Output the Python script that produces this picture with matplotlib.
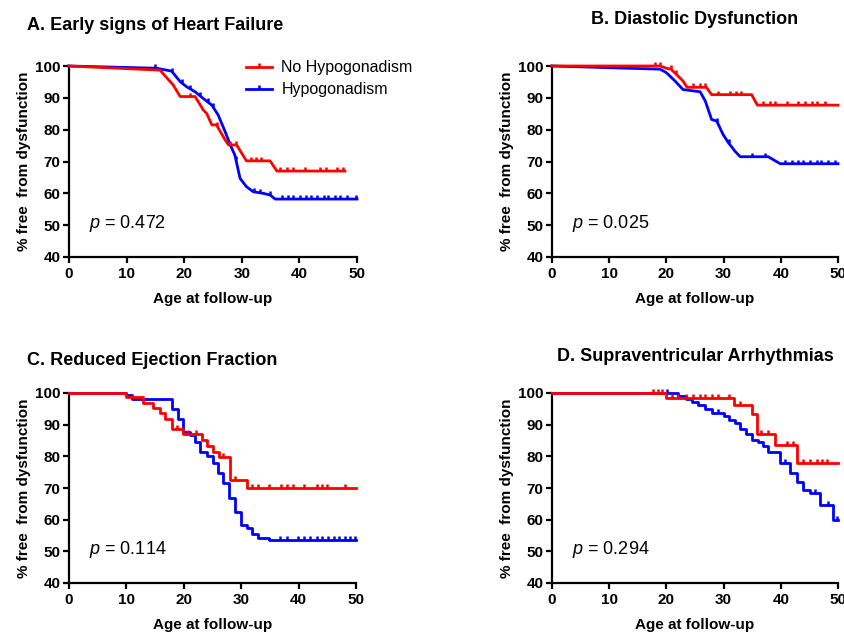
import numpy as np
import matplotlib
matplotlib.use("Agg")
import matplotlib.pyplot as plt
from matplotlib.lines import Line2D

plt.rcParams['font.family'] = ['Liberation Sans', 'DejaVu Sans']
plt.rcParams['mathtext.fontset'] = 'custom'
plt.rcParams['mathtext.rm'] = 'Liberation Sans'
plt.rcParams['mathtext.it'] = 'Liberation Sans:italic'

RED = '#ff0000'
BLUE = '#0000ff'
labels = ['No Hypogonadism', 'Hypogonadism']

# A. Early signs of Heart Failure (drawn as joined lines)
a_age_no = [0, 15.8, 18.1, 19.3, 21.9, 23.3, 23.9, 24.8, 25.6, 27.1, 27.7, 29.1, 30.8, 34.9, 36.1, 47.9]
a_pct_no = [100, 98.7, 94.0, 90.4, 90.4, 86.2, 85.1, 81.5, 81.5, 76.8, 75.2, 75.2, 70.2, 70.2, 67.0, 67.0]
a_cens_no = [21.0, 25.7, 28.0, 29.0, 31.6, 32.5, 33.4, 36.6, 37.8, 38.9, 41.0, 43.6, 44.7, 46.5, 47.6]
a_age_hy = [0, 15.2, 17.8, 19.3, 20.4, 21.9, 23.3, 24.8, 25.9, 27.1, 28.0, 28.8, 29.7, 30.8, 32.0, 33.7, 34.9, 35.8, 50]
a_pct_hy = [100, 99.3, 98.4, 95.1, 93.5, 91.9, 89.8, 87.7, 84.6, 79.4, 75.2, 72.0, 64.7, 62.1, 60.5, 60.0, 59.5, 58.2, 58.2]
a_cens_hy = [15.0, 17.9, 19.6, 21.0, 22.7, 24.2, 25.0, 29.0, 32.2, 33.2, 34.9, 36.9, 38.1, 38.9,
             40.1, 41.1, 42.1, 43.1, 44.2, 45.0, 46.2, 47.0, 48.2, 49.8]

# B. Diastolic Dysfunction (joined lines)
b_age_no = [0, 18.9, 20.0, 20.8, 22.0, 22.9, 23.6, 27.0, 27.9, 34.9, 35.9, 50]
b_pct_no = [100, 100, 99.3, 99.0, 96.9, 95.3, 93.3, 93.3, 91.0, 91.0, 87.7, 87.7]
b_cens_no = [18.0, 18.9, 20.8, 21.6, 24.7, 25.9, 26.8, 29.0, 31.1, 32.2, 33.1, 36.9, 38.1, 39.0,
             41.0, 43.0, 44.2, 45.4, 46.4, 47.7]
b_age_hy = [0, 18.9, 20.0, 21.5, 22.9, 25.9, 26.8, 27.9, 28.8, 29.9, 30.8, 32.0, 32.9, 37.8, 39.9, 50]
b_pct_hy = [100, 99.0, 97.9, 95.3, 92.6, 91.9, 89.0, 83.2, 82.7, 78.5, 76.0, 73.2, 71.5, 71.5, 69.3, 69.3]
b_cens_hy = [28.9, 30.9, 34.9, 37.2, 40.7, 41.9, 43.0, 43.9, 45.1, 46.3, 47.1, 48.3, 49.5]

# C. Reduced Ejection Fraction (steps)
c_age_no = [0, 10.0, 12.9, 14.7, 15.9, 16.8, 17.9, 19.9, 23.1, 24.1, 25.1, 26.1, 28.0, 31.0, 50]
c_pct_no = [100, 98.7, 97.0, 95.4, 93.7, 91.9, 88.5, 87.0, 85.1, 83.2, 81.5, 79.7, 72.5, 70.1, 70.1]
c_cens_no = [18.9, 20.8, 22.1, 26.9, 28.9, 31.8, 32.9, 34.9, 36.9, 37.9, 39.0, 41.0, 43.2, 44.0, 44.9, 48.0]
c_age_hy = [0, 10.0, 10.9, 18.0, 19.0, 19.9, 21.1, 22.0, 22.8, 24.0, 25.0, 26.0, 26.9, 27.9, 28.9,
            29.9, 31.0, 31.9, 32.9, 34.9, 50]
c_pct_hy = [100, 99.3, 98.0, 95.1, 91.9, 87.7, 86.7, 84.6, 81.5, 80.1, 78.0, 74.8, 71.7, 66.8, 62.3,
            58.4, 57.4, 55.5, 54.2, 53.5, 53.5]
c_cens_hy = [36.8, 37.9, 39.9, 41.0, 42.0, 43.2, 44.1, 45.2, 46.1, 47.1, 48.1, 49.0, 49.8]

# D. Supraventricular Arrhythmias (steps)
d_age_no = [0, 19.9, 31.9, 34.9, 35.9, 39.0, 42.9, 50]
d_pct_no = [100, 98.4, 96.1, 93.5, 87.2, 83.6, 78.0, 78.0]
d_cens_no = [17.7, 18.6, 19.2, 20.9, 22.1, 23.5, 24.7, 25.9, 26.8, 27.9, 29.1, 31.0, 32.9,
             36.6, 37.8, 41.0, 42.1, 43.9, 45.1, 46.3, 47.2, 48.0]
d_age_hy = [0, 22.1, 23.4, 24.4, 25.6, 26.8, 27.9, 30.0, 31.0, 32.0, 32.9, 33.9, 34.9, 36.1, 36.9,
            37.8, 39.8, 41.6, 42.8, 43.9, 45.1, 46.9, 49.2, 50]
d_pct_hy = [100, 99.1, 98.2, 97.2, 96.1, 95.1, 93.7, 92.7, 91.6, 90.4, 88.5, 87.2, 85.3, 84.6, 83.2,
            81.4, 77.8, 74.6, 72.0, 69.4, 68.4, 64.7, 60.0, 60.0]
d_cens_hy = [20.1, 29.1, 40.7, 45.9, 48.2, 49.9]

p_values = ['0.472', '0.025', '0.114', '0.294']
titles = ['A. Early signs of Heart Failure', 'B. Diastolic Dysfunction',
          'C. Reduced Ejection Fraction', 'D. Supraventricular Arrhythmias']


def step_value(x, y, cx):
    idx = np.searchsorted(np.asarray(x), np.asarray(cx), side='right') - 1
    return np.asarray(y)[idx]


def draw_curve(ax, x, y, cens, color, steps, z):
    if steps:
        ax.step(x, y, where='post', color=color, lw=2.0, zorder=z, clip_on=False)
        cy = step_value(x, y, cens)
    else:
        ax.plot(x, y, color=color, lw=2.0, zorder=z, clip_on=False)
        cy = np.interp(cens, x, y)
    ax.plot(cens, cy, ls='none', marker=2, ms=3, mew=1.8, color=color, zorder=z, clip_on=False)


def style_axes(ax, ptxt):
    ax.set_xlim(0, 50)
    ax.set_ylim(40, 100)
    ax.set_xticks(range(0, 51, 10))
    ax.set_yticks(range(40, 101, 10))
    for s in ['top', 'right']:
        ax.spines[s].set_visible(False)
    for s in ['left', 'bottom']:
        ax.spines[s].set_linewidth(1.6)
    ax.tick_params(width=1.6, length=4, labelsize=11, pad=2)
    ax.tick_params(axis='x', pad=3)
    for t in ax.get_xticklabels() + ax.get_yticklabels():
        t.set_fontweight('bold')
    ax.set_xlabel('Age at follow-up', fontsize=11, fontweight='bold', labelpad=8)
    ax.set_ylabel('% free  from dysfunction', fontsize=11, fontweight='bold', labelpad=3)
    ax.text(3.5, 50.5, '$p$ = ' + ptxt, fontsize=13, va='center', ha='left')


fig = plt.figure(figsize=(8.44, 6.33), dpi=100)
W, H = 844.0, 633.0
boxes = [(69, 66, 357, 257), (552, 66, 838, 257), (69, 393, 356, 583), (552, 393, 838, 583)]
axes = []
for (l, t, r, b) in boxes:
    axes.append(fig.add_axes([l / W, 1 - b / H, (r - l) / W, (b - t) / H]))

panels = [
    (a_age_no, a_pct_no, a_cens_no, a_age_hy, a_pct_hy, a_cens_hy, False),
    (b_age_no, b_pct_no, b_cens_no, b_age_hy, b_pct_hy, b_cens_hy, False),
    (c_age_no, c_pct_no, c_cens_no, c_age_hy, c_pct_hy, c_cens_hy, True),
    (d_age_no, d_pct_no, d_cens_no, d_age_hy, d_pct_hy, d_cens_hy, True),
]

for ax, pan, ptxt in zip(axes, panels, p_values):
    xn, yn, cn, xh, yh, ch, steps = pan
    draw_curve(ax, xh, yh, ch, BLUE, steps, 3)
    draw_curve(ax, xn, yn, cn, RED, steps, 4)
    style_axes(ax, ptxt)

# titles
fig.text(27 / W, 1 - 30 / H, titles[0], fontsize=13, fontweight='bold', ha='left', va='baseline')
fig.text(695 / W, 1 - 23.5 / H, titles[1], fontsize=13, fontweight='bold', ha='center', va='baseline')
fig.text(27 / W, 1 - 365 / H, titles[2], fontsize=13, fontweight='bold', ha='left', va='baseline')
fig.text(695 / W, 1 - 361 / H, titles[3], fontsize=13, fontweight='bold', ha='center', va='baseline')

handles = [Line2D([], [], color=RED, lw=2.0, marker=2, ms=3, mew=1.8),
           Line2D([], [], color=BLUE, lw=2.0, marker=2, ms=3, mew=1.8)]
axes[0].legend(handles, labels, loc='upper left', bbox_to_anchor=(0.615, 1.03), frameon=False,
               fontsize=11.5, borderpad=0, borderaxespad=0, handlelength=1.6,
               handletextpad=0.6, labelspacing=0.45, numpoints=1)

fig.savefig('out.png', dpi=100)
